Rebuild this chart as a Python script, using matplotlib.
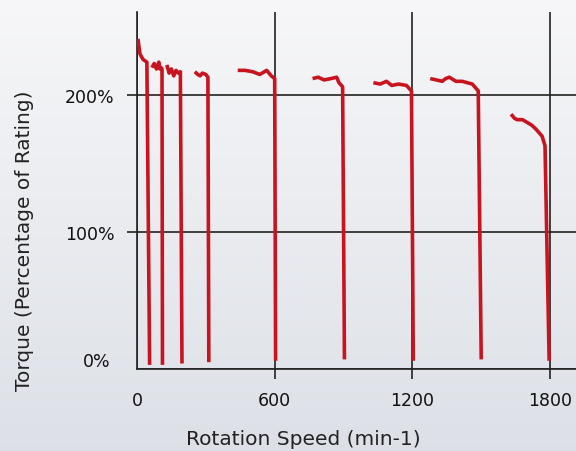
import numpy as np
import matplotlib.pyplot as plt
import matplotlib.transforms as mtransforms

# Torque curves, one per speed setting (speed in min-1, torque in %)
speed_1 = [4, 13, 26, 43, 55]
torque_1 = [241, 230, 226, 224, 3]
speed_2 = [65, 75, 85, 95, 100, 105, 109, 111]
torque_2 = [220, 223, 219, 224, 219, 220, 219, 3]
speed_3 = [130, 140, 150, 160, 170, 180, 189, 196]
torque_3 = [222, 216, 219, 214, 218, 216, 217, 4]
speed_4 = [252, 265, 275, 285, 300, 309, 313]
torque_4 = [217, 215, 214, 216, 215, 213, 5]
speed_5 = [439, 470, 504, 535, 565, 585, 600, 604]
torque_5 = [218, 218, 217, 215, 218, 214, 212, 6]
speed_6 = [765, 790, 815, 845, 870, 880, 896, 904]
torque_6 = [212, 213, 211, 212, 213, 209, 206, 7]
speed_7 = [1030, 1060, 1087, 1110, 1140, 1174, 1196, 1204]
torque_7 = [209, 208, 210, 207, 208, 207, 203, 6]
speed_8 = [1278, 1305, 1330, 1345, 1361, 1390, 1417, 1461, 1487, 1500]
torque_8 = [212, 211, 210, 212, 213, 210, 210, 208, 203, 7]
speed_9 = [1630, 1645, 1657, 1680, 1700, 1720, 1739, 1765, 1778, 1796]
torque_9 = [186, 183, 182, 182, 180, 178, 175, 170, 163, 6]

curves = [(speed_1, torque_1), (speed_2, torque_2), (speed_3, torque_3),
          (speed_4, torque_4), (speed_5, torque_5), (speed_6, torque_6),
          (speed_7, torque_7), (speed_8, torque_8), (speed_9, torque_9)]

x_ticks = [0, 600, 1200, 1800]
y_ticks = [0, 100, 200]
y_tick_labels = ["0%", "100%", "200%"]

fig = plt.figure(figsize=(5.76, 4.52), dpi=100)

# soft gray gradient background
bg = fig.add_axes([0, 0, 1, 1], zorder=-10)
grad = np.linspace(0, 1, 256).reshape(-1, 1)
top = np.array([0.968, 0.968, 0.975])
bot = np.array([0.865, 0.880, 0.905])
img = top + (bot - top) * grad[..., None]
bg.imshow(img, aspect="auto", extent=[0, 1, 0, 1])
bg.axis("off")

ax = fig.add_axes([137 / 576, 1 - 370 / 452, 439 / 576, 357 / 452])
ax.patch.set_alpha(0)

for sp, tq in curves:
    ax.plot(sp, tq, color="#c8141e", linewidth=2.6, solid_capstyle="butt", zorder=3)

ax.set_xlim(0, 1913)
ax.set_ylim(0, 260.6)
ax.set_xticks(x_ticks)
ax.set_xticklabels([str(v) for v in x_ticks])
ax.set_yticks(y_ticks)
ax.set_yticklabels(y_tick_labels)

ax.grid(True, color="#222222", linewidth=1.2)
for s in ["top", "right"]:
    ax.spines[s].set_visible(False)
for s in ["left", "bottom"]:
    ax.spines[s].set_color("#222222")
    ax.spines[s].set_linewidth(1.2)

ax.tick_params(axis="both", direction="out", length=7, width=1.2, color="#222222",
               labelsize=12.5, pad=9, labelcolor="#111111")
ax.xaxis.get_major_ticks()[0].tick1line.set_visible(False)
ax.yaxis.get_major_ticks()[0].tick1line.set_visible(False)

# lift the 0% label a bit
lbl = ax.get_yticklabels()[0]
lbl.set_transform(lbl.get_transform() + mtransforms.ScaledTranslation(-4 / 100, 10 / 100, fig.dpi_scale_trans))

fig.text(303 / 576, 1 - 440 / 452, "Rotation Speed (min-1)", ha="center", va="center",
         fontsize=14.5, color="#222222")
fig.text(25 / 576, 1 - 241 / 452, "Torque (Percentage of Rating)", ha="center", va="center",
         rotation=90, fontsize=14.5, color="#222222")

fig.savefig("out.png", dpi=100)
